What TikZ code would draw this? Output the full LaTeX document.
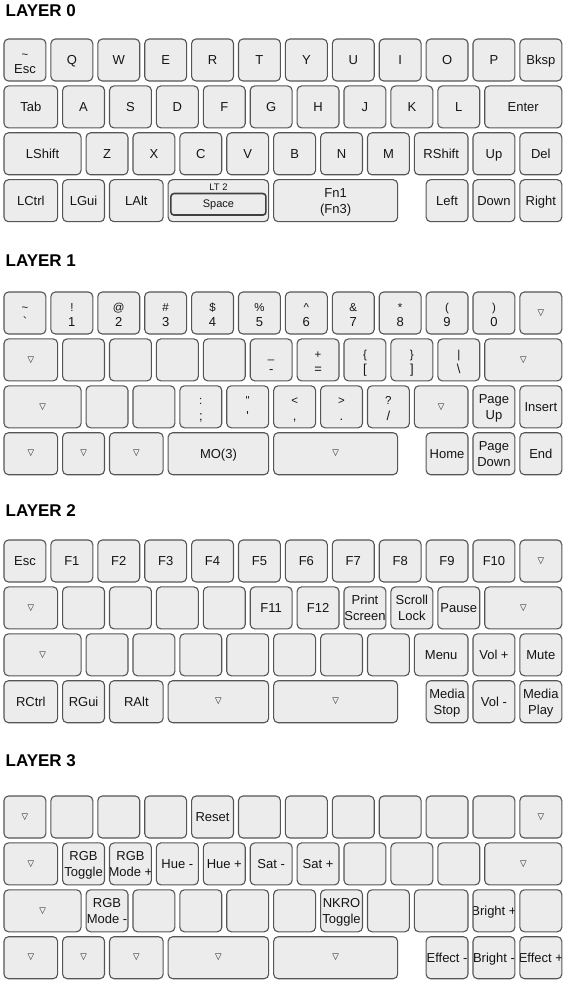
\documentclass[tikz,border=0pt]{standalone}
\usepackage{fontspec}
\setmainfont{Liberation Sans}
\newfontfamily\dvfont{DejaVu Sans}
\definecolor{keyfill}{HTML}{ECECEC}
\definecolor{keyline}{HTML}{555555}
\definecolor{innerline}{HTML}{404040}
\definecolor{txt}{HTML}{151515}
\tikzset{
  keyb/.style={draw=keyline, fill=keyfill, rounded corners=4.5pt, line width=1.1pt,
    inner sep=0pt, outer sep=0pt, minimum height=42pt, anchor=north west},
  lreset/.style={anchor=center, minimum width=0pt, minimum height=0pt, draw=none, fill=none, inner sep=0pt, outer sep=0pt},
  lb/.style={lreset, text=txt, text height=11.8pt, text depth=2.8pt,
    font=\fontsize{13}{15}\selectfont},
  lbs/.style={lreset, text=txt, text height=10.6pt, text depth=2.4pt,
    font=\fontsize{11.5}{13}\selectfont},
  tri/.style={lreset, text=txt, font=\dvfont\fontsize{8.5}{10}\selectfont},
  ttl/.style={inner sep=0pt, anchor=base west, text=black,
    font=\bfseries\fontsize{17}{20}\selectfont},
}
\newcommand\K[5]{\node[keyb, minimum width={#4*46.9pt-5pt}, path picture={#5}] (#1) at ({4+#2*46.9},#3) {};}
\newcommand\Tc[1]{\node[lb] at (path picture bounding box.center) {#1};}
\newcommand\Tw[2]{\node[lb] at ([yshift=8pt]path picture bounding box.center) {#1};\node[lb] at ([yshift=-8pt]path picture bounding box.center) {#2};}
\newcommand\Sy[2]{\node[lbs] at ([yshift=6pt]path picture bounding box.center) {#1};\node[lb] at ([yshift=-9pt]path picture bounding box.center) {#2};}
\newcommand\Tri{\node[tri] at (path picture bounding box.center) {▽};}
\newcommand\KT[5]{\K{#1}{#2}{#3}{#4}{\Tc{#5}}}
\newcommand\KW[6]{\K{#1}{#2}{#3}{#4}{\Tw{#5}{#6}}}
\newcommand\KS[6]{\K{#1}{#2}{#3}{#4}{\Sy{#5}{#6}}}
\newcommand\KV[4]{\K{#1}{#2}{#3}{#4}{\Tri}}
\newcommand\KB[4]{\K{#1}{#2}{#3}{#4}{}}
\begin{document}
\begin{tikzpicture}[x=1pt,y=-1pt]
\useasboundingbox (0,0) rectangle (566,1000);
% ---------------- LAYER 0
\node[ttl] (t0) at (5.5,16.5) {LAYER 0};
\KS{a00}{0}{39}{1}{\textasciitilde}{Esc}
\KT{a01}{1}{39}{1}{Q}
\KT{a02}{2}{39}{1}{W}
\KT{a03}{3}{39}{1}{E}
\KT{a04}{4}{39}{1}{R}
\KT{a05}{5}{39}{1}{T}
\KT{a06}{6}{39}{1}{Y}
\KT{a07}{7}{39}{1}{U}
\KT{a08}{8}{39}{1}{I}
\KT{a09}{9}{39}{1}{O}
\KT{a010}{10}{39}{1}{P}
\KT{a011}{11}{39}{1}{Bksp}
\KT{a10}{0}{85.9}{1.25}{Tab}
\KT{a11}{1.25}{85.9}{1}{A}
\KT{a12}{2.25}{85.9}{1}{S}
\KT{a13}{3.25}{85.9}{1}{D}
\KT{a14}{4.25}{85.9}{1}{F}
\KT{a15}{5.25}{85.9}{1}{G}
\KT{a16}{6.25}{85.9}{1}{H}
\KT{a17}{7.25}{85.9}{1}{J}
\KT{a18}{8.25}{85.9}{1}{K}
\KT{a19}{9.25}{85.9}{1}{L}
\KT{a110}{10.25}{85.9}{1.75}{Enter}
\KT{a20}{0}{132.8}{1.75}{LShift}
\KT{a21}{1.75}{132.8}{1}{Z}
\KT{a22}{2.75}{132.8}{1}{X}
\KT{a23}{3.75}{132.8}{1}{C}
\KT{a24}{4.75}{132.8}{1}{V}
\KT{a25}{5.75}{132.8}{1}{B}
\KT{a26}{6.75}{132.8}{1}{N}
\KT{a27}{7.75}{132.8}{1}{M}
\KT{a28}{8.75}{132.8}{1.25}{RShift}
\KT{a29}{10}{132.8}{1}{Up}
\KT{a210}{11}{132.8}{1}{Del}
\KT{a30}{0}{179.7}{1.25}{LCtrl}
\KT{a31}{1.25}{179.7}{1}{LGui}
\KT{a32}{2.25}{179.7}{1.25}{LAlt}
\K{a33}{3.5}{179.7}{2.25}{\node[lbs, text height=8.5pt, text depth=2pt, font=\fontsize{9.5}{11}\selectfont] at ([yshift=13.6pt]path picture bounding box.center) {LT 2};}
\node[draw=innerline, fill=keyfill, rounded corners=3pt, line width=1.6pt, inner sep=0pt,
  minimum width=95pt, minimum height=21.5pt, text=txt, text height=8.3pt, text depth=2.4pt,
  font=\fontsize{11}{13}\selectfont] (a33in) at ([yshift=-24.6pt]a33.north) {Space};
\KW{a34}{5.75}{179.7}{2.75}{Fn1}{(Fn3)}
\KT{a35}{9}{179.7}{1}{Left}
\KT{a36}{10}{179.7}{1}{Down}
\KT{a37}{11}{179.7}{1}{Right}
% ---------------- LAYER 1
\node[ttl] (t1) at (5.5,266.5) {LAYER 1};
\KS{b00}{0}{292}{1}{\textasciitilde}{\textasciigrave}
\KS{b01}{1}{292}{1}{!}{1}
\KS{b02}{2}{292}{1}{@}{2}
\KS{b03}{3}{292}{1}{\#}{3}
\KS{b04}{4}{292}{1}{\$}{4}
\KS{b05}{5}{292}{1}{\%}{5}
\KS{b06}{6}{292}{1}{\textasciicircum}{6}
\KS{b07}{7}{292}{1}{\&}{7}
\KS{b08}{8}{292}{1}{*}{8}
\KS{b09}{9}{292}{1}{(}{9}
\KS{b010}{10}{292}{1}{)}{0}
\KV{b011}{11}{292}{1}
\KV{b10}{0}{338.9}{1.25}
\KB{b11}{1.25}{338.9}{1}
\KB{b12}{2.25}{338.9}{1}
\KB{b13}{3.25}{338.9}{1}
\KB{b14}{4.25}{338.9}{1}
\KS{b15}{5.25}{338.9}{1}{\_}{-}
\KS{b16}{6.25}{338.9}{1}{+}{=}
\KS{b17}{7.25}{338.9}{1}{\{}{[}
\KS{b18}{8.25}{338.9}{1}{\}}{]}
\KS{b19}{9.25}{338.9}{1}{|}{\textbackslash}
\KV{b110}{10.25}{338.9}{1.75}
\KV{b20}{0}{385.8}{1.75}
\KB{b21}{1.75}{385.8}{1}
\KB{b22}{2.75}{385.8}{1}
\KS{b23}{3.75}{385.8}{1}{:}{;}
\KS{b24}{4.75}{385.8}{1}{\textquotedbl}{\textquotesingle}
\KS{b25}{5.75}{385.8}{1}{<}{,}
\KS{b26}{6.75}{385.8}{1}{>}{.}
\KS{b27}{7.75}{385.8}{1}{?}{/}
\KV{b28}{8.75}{385.8}{1.25}
\KW{b29}{10}{385.8}{1}{Page}{Up}
\KT{b210}{11}{385.8}{1}{Insert}
\KV{b30}{0}{432.7}{1.25}
\KV{b31}{1.25}{432.7}{1}
\KV{b32}{2.25}{432.7}{1.25}
\KT{b33}{3.5}{432.7}{2.25}{MO(3)}
\KV{b34}{5.75}{432.7}{2.75}
\KT{b35}{9}{432.7}{1}{Home}
\KW{b36}{10}{432.7}{1}{Page}{Down}
\KT{b37}{11}{432.7}{1}{End}
% ---------------- LAYER 2
\node[ttl] (t2) at (5.5,516.5) {LAYER 2};
\KT{c00}{0}{540}{1}{Esc}
\KT{c01}{1}{540}{1}{F1}
\KT{c02}{2}{540}{1}{F2}
\KT{c03}{3}{540}{1}{F3}
\KT{c04}{4}{540}{1}{F4}
\KT{c05}{5}{540}{1}{F5}
\KT{c06}{6}{540}{1}{F6}
\KT{c07}{7}{540}{1}{F7}
\KT{c08}{8}{540}{1}{F8}
\KT{c09}{9}{540}{1}{F9}
\KT{c010}{10}{540}{1}{F10}
\KV{c011}{11}{540}{1}
\KV{c10}{0}{586.9}{1.25}
\KB{c11}{1.25}{586.9}{1}
\KB{c12}{2.25}{586.9}{1}
\KB{c13}{3.25}{586.9}{1}
\KB{c14}{4.25}{586.9}{1}
\KT{c15}{5.25}{586.9}{1}{F11}
\KT{c16}{6.25}{586.9}{1}{F12}
\KW{c17}{7.25}{586.9}{1}{Print}{Screen}
\KW{c18}{8.25}{586.9}{1}{Scroll}{Lock}
\KT{c19}{9.25}{586.9}{1}{Pause}
\KV{c110}{10.25}{586.9}{1.75}
\KV{c20}{0}{633.8}{1.75}
\KB{c21}{1.75}{633.8}{1}
\KB{c22}{2.75}{633.8}{1}
\KB{c23}{3.75}{633.8}{1}
\KB{c24}{4.75}{633.8}{1}
\KB{c25}{5.75}{633.8}{1}
\KB{c26}{6.75}{633.8}{1}
\KB{c27}{7.75}{633.8}{1}
\KT{c28}{8.75}{633.8}{1.25}{Menu}
\KT{c29}{10}{633.8}{1}{Vol +}
\KT{c210}{11}{633.8}{1}{Mute}
\KT{c30}{0}{680.7}{1.25}{RCtrl}
\KT{c31}{1.25}{680.7}{1}{RGui}
\KT{c32}{2.25}{680.7}{1.25}{RAlt}
\KV{c33}{3.5}{680.7}{2.25}
\KV{c34}{5.75}{680.7}{2.75}
\KW{c35}{9}{680.7}{1}{Media}{Stop}
\KT{c36}{10}{680.7}{1}{Vol -}
\KW{c37}{11}{680.7}{1}{Media}{Play}
% ---------------- LAYER 3
\node[ttl] (t3) at (5.5,766.5) {LAYER 3};
\KV{d00}{0}{796}{1}
\KB{d01}{1}{796}{1}
\KB{d02}{2}{796}{1}
\KB{d03}{3}{796}{1}
\KT{d04}{4}{796}{1}{Reset}
\KB{d05}{5}{796}{1}
\KB{d06}{6}{796}{1}
\KB{d07}{7}{796}{1}
\KB{d08}{8}{796}{1}
\KB{d09}{9}{796}{1}
\KB{d010}{10}{796}{1}
\KV{d011}{11}{796}{1}
\KV{d10}{0}{842.9}{1.25}
\KW{d11}{1.25}{842.9}{1}{RGB}{Toggle}
\KW{d12}{2.25}{842.9}{1}{RGB}{Mode +}
\KT{d13}{3.25}{842.9}{1}{Hue -}
\KT{d14}{4.25}{842.9}{1}{Hue +}
\KT{d15}{5.25}{842.9}{1}{Sat -}
\KT{d16}{6.25}{842.9}{1}{Sat +}
\KB{d17}{7.25}{842.9}{1}
\KB{d18}{8.25}{842.9}{1}
\KB{d19}{9.25}{842.9}{1}
\KV{d110}{10.25}{842.9}{1.75}
\KV{d20}{0}{889.8}{1.75}
\KW{d21}{1.75}{889.8}{1}{RGB}{Mode -}
\KB{d22}{2.75}{889.8}{1}
\KB{d23}{3.75}{889.8}{1}
\KB{d24}{4.75}{889.8}{1}
\KB{d25}{5.75}{889.8}{1}
\KW{d26}{6.75}{889.8}{1}{NKRO}{Toggle}
\KB{d27}{7.75}{889.8}{1}
\KB{d28}{8.75}{889.8}{1.25}
\KT{d29}{10}{889.8}{1}{Bright +}
\KB{d210}{11}{889.8}{1}
\KV{d30}{0}{936.7}{1.25}
\KV{d31}{1.25}{936.7}{1}
\KV{d32}{2.25}{936.7}{1.25}
\KV{d33}{3.5}{936.7}{2.25}
\KV{d34}{5.75}{936.7}{2.75}
\KT{d35}{9}{936.7}{1}{Effect -}
\KT{d36}{10}{936.7}{1}{Bright -}
\KT{d37}{11}{936.7}{1}{Effect +}
\end{tikzpicture}
\end{document}
